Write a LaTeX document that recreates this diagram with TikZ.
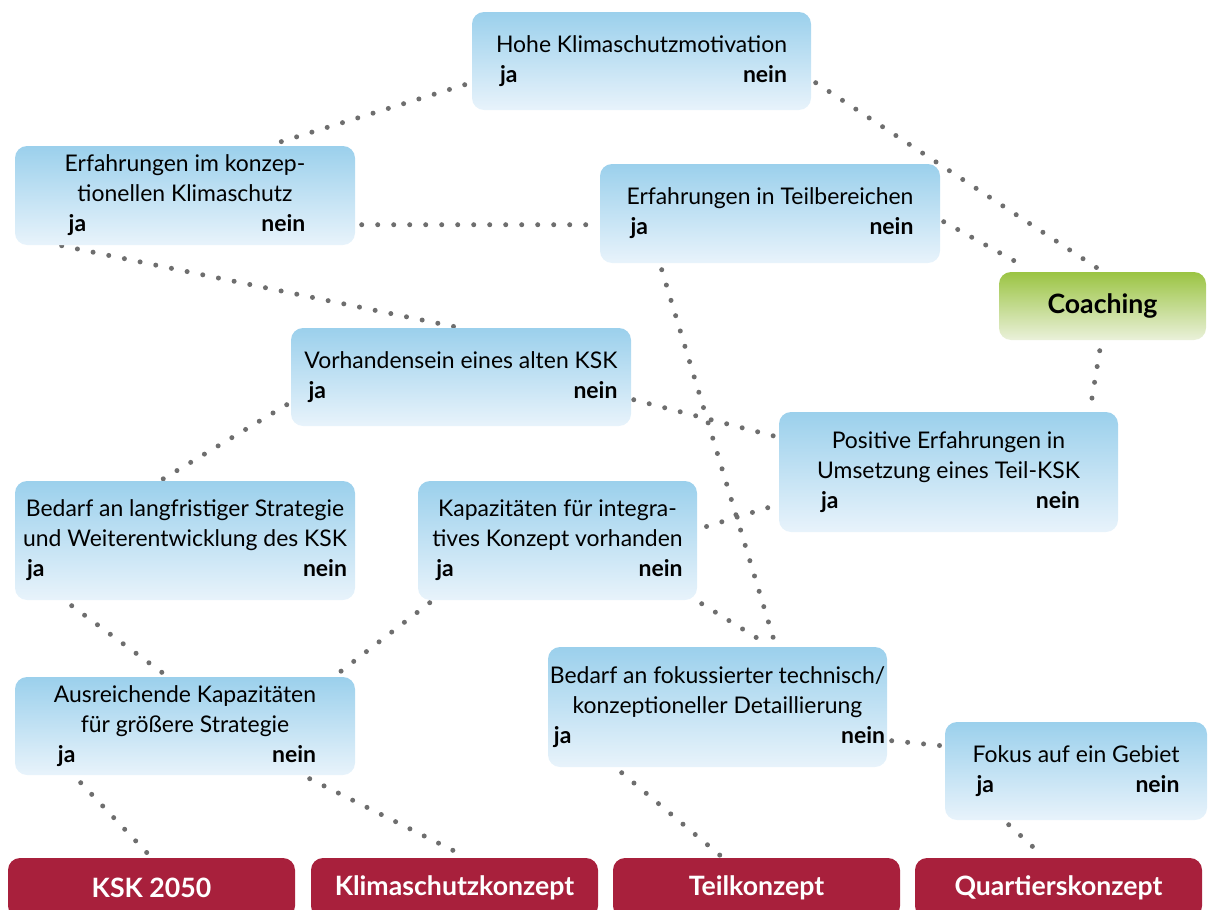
\documentclass[tikz,border=0pt]{standalone}
\usepackage{fontspec}
\setmainfont{Lato}
\definecolor{bTop}{RGB}{155,208,236}
\definecolor{bBot}{RGB}{232,243,251}
\definecolor{gTop}{RGB}{155,196,67}
\definecolor{gBot}{RGB}{234,241,218}
\definecolor{redbox}{RGB}{168,32,60}
\definecolor{dotc}{RGB}{110,110,110}
\newcommand\jn{\hspace{3pt}\textbf{ja}\hfill\textbf{nein}\hspace{1pt}}
\newcommand\tb[1]{\begin{tabular}{@{}c@{}}#1\end{tabular}}
\pgfdeclarelayer{background}
\pgfsetlayers{background,main}
\begin{document}
\begin{tikzpicture}[x=0.75pt,y=-0.75pt,
  sz/.style 2 args={minimum width=#1*0.75pt, minimum height=#2*0.75pt},
  bbox/.style={rounded corners=9pt, top color=bTop, bottom color=bBot, draw=none, inner sep=0pt, font=\fontsize{17.2}{22.5}\selectfont},
  gbox/.style={rounded corners=9pt, top color=gTop, bottom color=gBot, draw=none, inner sep=0pt, font=\fontsize{20}{24}\selectfont\bfseries},
  rbox/.style={rounded corners=9pt, fill=redbox, draw=none, inner sep=0pt, text=white, font=\fontsize{20}{24}\selectfont\bfseries, minimum width=287*0.75pt, minimum height=60*0.75pt},
  dots/.style={draw=dotc, line width=3.75pt, line cap=round, dash pattern=on 0pt off 12pt}]
\useasboundingbox (0,0) rectangle (1208,910);

\node[bbox, sz={339}{98}] (b1) at (641.5,61) {\tb{Hohe Klimaschutzmotivation\\ \jn}};
\node[bbox, sz={340}{99}] (b2) at (185,195.5) {\tb{Erfahrungen im konzep-\\ tionellen Klimaschutz\\ \jn}};
\node[bbox, sz={340}{99}] (b3) at (770,213.5) {\tb{Erfahrungen in Teilbereichen\\ \jn}};
\node[gbox, sz={207}{68}] (coach) at (1102.5,306) {Coaching};
\node[bbox, sz={340}{98}] (b4) at (461,377) {\tb{Vorhandensein eines alten KSK\\ \jn}};
\node[bbox, sz={339}{120}] (b5) at (948.5,472) {\tb{Positive Erfahrungen in\\ Umsetzung eines Teil-KSK\\ \jn}};
\node[bbox, sz={340}{119}] (b6) at (185,540.5) {\tb{Bedarf an langfristiger Strategie\\ und Weiterentwicklung des KSK\\ \jn}};
\node[bbox, sz={279}{119}] (b7) at (557.5,540.5) {\tb{Kapazitäten für integra-\\ tives Konzept vorhanden\\ \jn}};
\node[bbox, sz={340}{98}] (b8) at (185,726) {\tb{Ausreichende Kapazitäten\\ für größere Strategie\\ \jn}};
\node[bbox, sz={339}{120}] (b9) at (717.5,707) {\tb{Bedarf an fokussierter technisch/\\ konzeptioneller Detaillierung\\ \jn}};
\node[bbox, sz={262}{98}] (b10) at (1076,771) {\tb{Fokus auf ein Gebiet\\ \jn}};

\node[rbox] (r1) at (151.5,888) {KSK 2050};
\node[rbox] (r2) at (454.5,888) {Klimaschutzkonzept};
\node[rbox] (r3) at (756.5,888) {Teilkonzept};
\node[rbox] (r4) at (1058.5,888) {Quartierskonzept};

\begin{pgfonlayer}{background}
\draw[dots] ([shift={(-7,73)}]b1.north west) -- ([shift={(263,-3)}]b2.north west);
\draw[dots] ([shift={(344,71)}]b1.north west) -- ([shift={(98,-4)}]coach.north west);
\draw[dots] ([shift={(347,79)}]b2.north west) -- ([shift={(-8,61)}]b3.north west);
\draw[dots] ([shift={(47,100)}]b2.north west) -- ([shift={(164,-1)}]b4.north west);
\draw[dots] ([shift={(344,58)}]b3.north west) -- ([shift={(28,-4)}]coach.north west);
\draw[dots] ([shift={(62,106)}]b3.north west) -- ([shift={(227,-4)}]b9.north west);
\draw[dots] ([shift={(101,79)}]coach.north west) -- ([shift={(312,-6)}]b5.north west);
\draw[dots] ([shift={(343,72)}]b4.north west) -- ([shift={(-2,25)}]b5.north west);
\draw[dots] ([shift={(-4,77)}]b4.north west) -- ([shift={(147,-1)}]b6.north west);
\draw[dots] ([shift={(-11,96)}]b5.north west) -- ([shift={(288,46)}]b7.north west);
\draw[dots] ([shift={(57,125)}]b6.north west) -- ([shift={(149,-3)}]b8.north west);
\draw[dots] ([shift={(12,122)}]b7.north west) -- ([shift={(323,-3)}]b8.north west);
\draw[dots] ([shift={(284,123)}]b7.north west) -- ([shift={(217,-4)}]b9.north west);
\draw[dots] ([shift={(344,94)}]b9.north west) -- ([shift={(-3,24)}]b10.north west);
\draw[dots] ([shift={(66,106)}]b8.north west) -- ([shift={(142,-2)}]r1.north west);
\draw[dots] ([shift={(295,102)}]b8.north west) -- ([shift={(155,-1)}]r2.north west);
\draw[dots] ([shift={(74,126)}]b9.north west) -- ([shift={(109,-1)}]r3.north west);
\draw[dots] ([shift={(64,103)}]b10.north west) -- ([shift={(129,-1)}]r4.north west);
\end{pgfonlayer}
\end{tikzpicture}
\end{document}
